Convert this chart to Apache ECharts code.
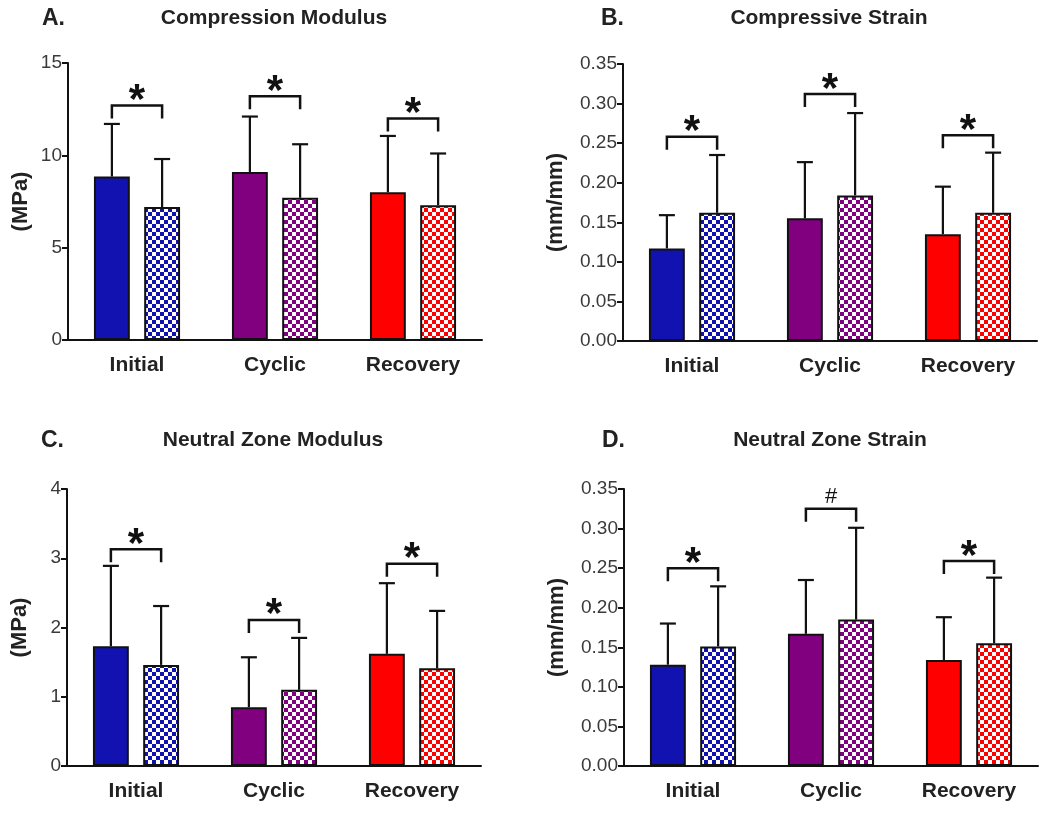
<!DOCTYPE html>
<html>
<head>
<meta charset="utf-8">
<script src="https://cdn.jsdelivr.net/npm/echarts@6/dist/echarts.min.js"></script>
<style>
  html, body { margin: 0; background: #fff; }
  #chart { width: 1050px; height: 814px; }
</style>
</head>
<body>
<div id="chart"></div>
<script>
// categories
const categories = ['Initial', 'Cyclic', 'Recovery'];

// A. Compression Modulus (MPa)
const compModSolid   = [8.85, 9.1, 8.0];
const compModSolidSd = [2.85, 3.0, 3.05];
const compModCheck   = [7.2, 7.7, 7.3];
const compModCheckSd = [2.6, 2.9, 2.8];
const compModSig     = [12.7, 13.2, 12.0];

// B. Compressive Strain (mm/mm)
const compStrainSolid   = [0.117, 0.155, 0.135];
const compStrainSolidSd = [0.042, 0.071, 0.060];
const compStrainCheck   = [0.162, 0.184, 0.162];
const compStrainCheckSd = [0.073, 0.104, 0.076];
const compStrainSig     = [0.258, 0.312, 0.260];

// C. Neutral Zone Modulus (MPa)
const nzModSolid   = [1.73, 0.85, 1.62];
const nzModSolidSd = [1.16, 0.72, 1.02];
const nzModCheck   = [1.46, 1.10, 1.41];
const nzModCheckSd = [0.85, 0.75, 0.83];
const nzModSig     = [3.13, 2.11, 2.92];

// D. Neutral Zone Strain (mm/mm)
const nzStrainSolid   = [0.128, 0.167, 0.134];
const nzStrainSolidSd = [0.052, 0.068, 0.054];
const nzStrainCheck   = [0.151, 0.185, 0.155];
const nzStrainCheckSd = [0.076, 0.116, 0.083];
const nzStrainSig     = [0.250, 0.325, 0.259];

// significance marks
const sigMarksABC = ['*', '*', '*'];
const sigMarksD   = ['*', '#', '*'];

// y ticks
const modMaxA = 15, modStepA = 5;
const strainMax = 0.35, strainStep = 0.05;
const modMaxC = 4, modStepC = 1;

const groupColors = ['#1212b0', '#800080', '#ff0000'];
const INK = '#111';
const BAR_FRAC = 0.26, BAR_GAP = 0.4;
const LEG = 13;
const FONT = '"Liberation Sans", Arial, sans-serif';

function checker(color) {
  const c = document.createElement('canvas');
  c.width = 8; c.height = 8;
  const g = c.getContext('2d');
  g.fillStyle = '#fff'; g.fillRect(0, 0, 8, 8);
  g.fillStyle = color;
  g.fillRect(0, 0, 4, 4);
  g.fillRect(4, 4, 4, 4);
  return c;
}
const patterns = groupColors.map(checker);

const panels = [
  { letter: 'A.', title: 'Compression Modulus', unit: '(MPa)', pos: [68, 63], max: modMaxA, step: modStepA, dec: 0, gap: 36,
    solid: compModSolid, solidSd: compModSolidSd, check: compModCheck, checkSd: compModCheckSd, sig: compModSig, marks: sigMarksABC },
  { letter: 'B.', title: 'Compressive Strain', unit: '(mm/mm)', pos: [623, 64], max: strainMax, step: strainStep, dec: 2, gap: 56,
    solid: compStrainSolid, solidSd: compStrainSolidSd, check: compStrainCheck, checkSd: compStrainCheckSd, sig: compStrainSig, marks: sigMarksABC },
  { letter: 'C.', title: 'Neutral Zone Modulus', unit: '(MPa)', pos: [67, 489], max: modMaxC, step: modStepC, dec: 0, gap: 36,
    solid: nzModSolid, solidSd: nzModSolidSd, check: nzModCheck, checkSd: nzModCheckSd, sig: nzModSig, marks: sigMarksABC },
  { letter: 'D.', title: 'Neutral Zone Strain', unit: '(mm/mm)', pos: [624, 489], max: strainMax, step: strainStep, dec: 2, gap: 56,
    solid: nzStrainSolid, solidSd: nzStrainSolidSd, check: nzStrainCheck, checkSd: nzStrainCheckSd, sig: nzStrainSig, marks: sigMarksD }
];

const GW = 414, GH = 277;

function barOffset(api) {
  const band = api.size([1, 0])[0];
  const bw = band * BAR_FRAC;
  return (bw + bw * BAR_GAP) / 2;
}

function errorSeries(p, means, sds, side) {
  return {
    type: 'custom', xAxisIndex: p, yAxisIndex: p, z: 1, silent: true,
    data: means.map((m, i) => [i, m, sds[i]]),
    renderItem(params, api) {
      const x = api.coord([api.value(0), 0])[0] + side * barOffset(api);
      const y0 = api.coord([api.value(0), api.value(1)])[1];
      const y1 = api.coord([api.value(0), api.value(1) + api.value(2)])[1];
      return { type: 'group', children: [
        { type: 'line', shape: { x1: x, y1: y0, x2: x, y2: y1 }, style: { stroke: INK, lineWidth: 2.2 } },
        { type: 'line', shape: { x1: x - 8, y1: y1, x2: x + 8, y2: y1 }, style: { stroke: INK, lineWidth: 2.2 } }
      ] };
    }
  };
}

function bracketSeries(p, tops, marks) {
  return {
    type: 'custom', xAxisIndex: p, yAxisIndex: p, z: 5, silent: true,
    data: tops.map((t, i) => [i, t]),
    renderItem(params, api) {
      const off = barOffset(api);
      const c = api.coord([api.value(0), api.value(1)]);
      const x1 = c[0] - off, x2 = c[0] + off, y = c[1];
      const mark = marks[params.dataIndex];
      const star = mark === '*';
      return { type: 'group', children: [
        { type: 'polyline', shape: { points: [[x1, y + LEG], [x1, y], [x2, y], [x2, y + LEG]] },
          style: { stroke: INK, lineWidth: 2.5, fill: null } },
        { type: 'text', x: c[0], y: star ? y - 4 : y - 12,
          style: { text: mark, fill: INK, align: 'center', verticalAlign: 'middle',
                   font: (star ? 'bold 42px ' : '22px ') + FONT } }
      ] };
    }
  };
}

const grid = [], xAxis = [], yAxis = [], series = [], title = [];

panels.forEach((pn, p) => {
  grid.push({ left: pn.pos[0], top: pn.pos[1], width: GW, height: GH });
  const cx = pn.pos[0] + GW / 2 - 6;
  const ty = p < 2 ? 3 : 425;
  title.push({ text: pn.letter, left: pn.pos[0] - (p % 2 ? 27 : 31), top: ty - 1,
    textStyle: { fontFamily: FONT, fontSize: 23, fontWeight: 'bold', color: '#222' } });
  title.push({ text: pn.title, left: cx, top: ty, textAlign: 'center',
    textStyle: { fontFamily: FONT, fontSize: 21, fontWeight: 'bold', color: '#222' } });

  xAxis.push({
    type: 'category', gridIndex: p, data: categories,
    axisLine: { lineStyle: { color: INK, width: 2 } },
    axisTick: { alignWithLabel: true, length: 6, lineStyle: { color: INK, width: 2 } },
    axisLabel: { margin: 15, fontFamily: FONT, fontSize: 21, fontWeight: 'bold', color: '#222' },
    splitLine: { show: false }
  });
  yAxis.push({
    type: 'value', gridIndex: p, min: 0, max: pn.max, interval: pn.step,
    name: pn.unit, nameLocation: 'middle', nameGap: pn.gap, nameRotate: 90,
    nameTextStyle: { fontFamily: FONT, fontSize: 22, fontWeight: 'bold', color: '#222' },
    axisLine: { show: true, lineStyle: { color: INK, width: 2 } },
    axisTick: { show: true, length: 6, lineStyle: { color: INK, width: 2 } },
    axisLabel: { margin: 6, fontFamily: FONT, fontSize: 19, color: '#3a3a3a',
      formatter: v => v.toFixed(pn.dec) },
    splitLine: { show: false }
  });

  series.push({
    type: 'bar', xAxisIndex: p, yAxisIndex: p, z: 2, barWidth: '26%', barGap: '40%',
    data: pn.solid.map((v, i) => ({ value: v, itemStyle: { color: groupColors[i] } })),
    itemStyle: { borderColor: INK, borderWidth: 2 }
  });
  series.push({
    type: 'bar', xAxisIndex: p, yAxisIndex: p, z: 2, barWidth: '26%', barGap: '40%',
    data: pn.check.map((v, i) => ({ value: v, itemStyle: { color: { image: patterns[i], repeat: 'repeat' } } })),
    itemStyle: { borderColor: INK, borderWidth: 2 }
  });
  series.push(errorSeries(p, pn.solid, pn.solidSd, -1));
  series.push(errorSeries(p, pn.check, pn.checkSd, 1));
  series.push(bracketSeries(p, pn.sig, pn.marks));
});

const chart = echarts.init(document.getElementById('chart'));
chart.setOption({
  backgroundColor: '#fff',
  animation: false,
  title, grid, xAxis, yAxis, series
});
window.onresize = () => chart.resize();
</script>
</body>
</html>
